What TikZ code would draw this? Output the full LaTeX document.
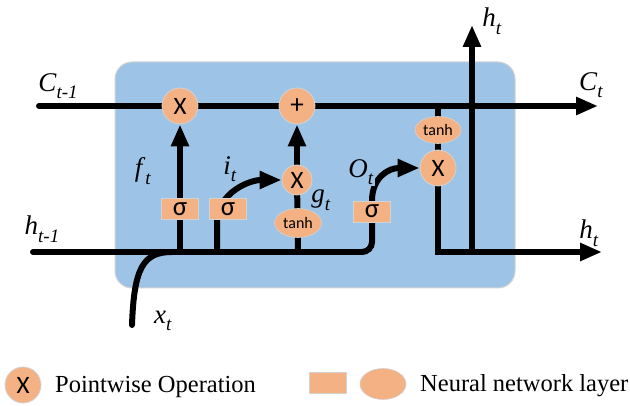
\documentclass[tikz,border=0pt]{standalone}
\usepackage{fontspec}
\setmainfont{Liberation Serif}
\newfontfamily\calib{Carlito}
\usetikzlibrary{arrows.meta,shapes.geometric,calc}
\definecolor{cellblue}{HTML}{9DC3E6}
\definecolor{nnorange}{HTML}{F4B183}
\definecolor{edgegray}{HTML}{D3D3D3}
\pgfdeclarelayer{bg}\pgfdeclarelayer{mid}\pgfsetlayers{bg,mid,main}
\newcommand{\lab}[2]{\textit{#1}\raisebox{-0.28em}{\fontsize{19}{19}\selectfont\textit{#2}}}
\begin{document}
\begin{tikzpicture}[x=1pt,y=-1pt,
 line/.style={line width=6pt, line cap=round},
 arr/.style={line width=6pt, line cap=round, -{Triangle[width=17pt,length=22pt]}},
 pw/.style={circle, fill=nnorange, draw=edgegray, line width=0.8pt, inner sep=0pt, minimum size=36pt, font=\calib\fontsize{25}{25}\selectfont},
 sig/.style={rectangle, fill=nnorange, draw=edgegray, line width=0.6pt, minimum width=37pt, minimum height=21pt, inner sep=0pt, font=\calib\fontsize{27}{27}\selectfont},
 th/.style={ellipse, fill=nnorange, draw=edgegray, line width=0.6pt, inner sep=0pt, minimum width=47pt, minimum height=29pt, font=\calib\fontsize{16}{16}\selectfont},
 mlab/.style={inner sep=0pt, font=\fontsize{27}{27}\selectfont},
 leg/.style={inner sep=0pt, anchor=west, font=\fontsize{24.5}{24.5}\selectfont}]
\useasboundingbox (0,0) rectangle (630,406);

% cell
\begin{pgfonlayer}{bg}
\node[rectangle, rounded corners=17pt, fill=cellblue, draw=edgegray, line width=1pt, minimum width=400pt, minimum height=226pt] (cell) at (315,175) {};
\end{pgfonlayer}

% operation nodes
\node[pw] (fx) at (180,106) {X};
\node[pw, font=\calib\fontsize{27}{27}\selectfont] (plus) at (297,106) {+};
\node[pw, minimum size=30pt] (ix) at (297,180) {X};
\node[pw] (ox) at (438,168) {X};
\node[sig] (fs) at (180,209) {σ};
\node[sig] (is) at (228,209) {σ};
\node[sig] (os) at (372,211.5) {σ};
\node[th] (gt) at (298,223) {tanh};
\node[th, minimum width=46pt, minimum height=27pt] (ct) at (438,130) {tanh};

% free ends
\coordinate (cin) at (39,106);
\coordinate (cout) at (598,106);
\coordinate (hin) at (33,252);
\coordinate (hout) at (602,252);
\coordinate (htop) at (472,25);
\coordinate (xin) at (132,325);
\coordinate (xjoin) at (172,252);
\coordinate (ibase) at (217,252);

\begin{pgfonlayer}{mid}
\draw[arr] (cin) -- (cout);
\draw[arr] (fs.center |- hin) -- (fx);
\draw[line] (hin) -- (362,252);
\draw[line] (362,252) [rounded corners=10pt] -| (os.center);
\draw[arr] (os.center) -- (os.north) .. controls (372,178) and (388,168) .. (ox.west);
\draw[arr] (ibase) -- (217,222) .. controls (218,192) and (250,180) .. (ix.west);
\draw[line] (gt.center |- hin) -- (ix);
\draw[arr] (ix) -- (plus);
\draw[line] (ct.center |- cin) -- (ox);
\draw[arr] (ox) |- (hout);
\draw[arr] (htop |- hout) -- (htop);
\draw[line] (xin) .. controls (134,268) and (143,252) .. (xjoin);
\end{pgfonlayer}

% labels
\node[mlab] (lc1) at (58,86) {\lab{C}{t-1}};
\node[mlab] (lct) at (591,85) {\lab{C}{t}};
\node[mlab] (lh1) at (42,229) {\lab{h}{t-1}};
\node[mlab] (lhtop) at (492,21) {\lab{h}{t}};
\node[mlab] (lhbot) at (589,233) {\lab{h}{t}};
\node[mlab] (lf) at (143,171) {\lab{f}{t}};
\node[mlab] (li) at (230,169) {\lab{i}{t}};
\node[mlab, fill=cellblue, inner sep=1pt] (lg) at (321,200) {\lab{g}{t}};
\node[mlab, fill=cellblue, inner sep=1pt] (lo) at (361,172) {\lab{O}{t}};
\node[mlab] (lx) at (163,321) {\lab{x}{t}};

% legend
\node[pw] (legx) at (23,385) {X};
\node[leg] (legxt) at (55,387) {Pointwise Operation};
\node[sig, minimum height=21pt] (legr) at (327.5,382.5) {};
\node[th, minimum width=46pt, minimum height=31pt] (lege) at (383,384) {};
\node[leg] (leget) at (420,386) {Neural network layer};
\end{tikzpicture}
\end{document}
